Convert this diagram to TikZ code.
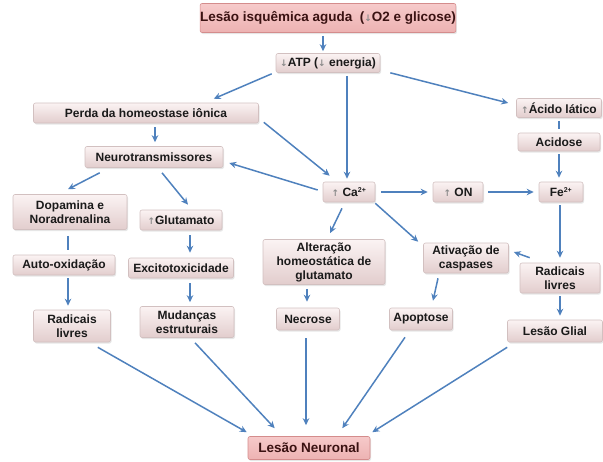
\documentclass[tikz,border=0pt]{standalone}
\usepackage{fontspec}
\setmainfont{Liberation Sans}
\newfontfamily\symfont{DejaVu Sans}
\usetikzlibrary{arrows.meta,calc,shadows}
\definecolor{arrblue}{HTML}{4F81BD}
\definecolor{boxtop}{HTML}{FBF3F3}
\definecolor{boxbot}{HTML}{E2CDCD}
\definecolor{boxline}{HTML}{D2C0C0}
\definecolor{redtop}{HTML}{F6CACA}
\definecolor{redbot}{HTML}{EDB2B2}
\definecolor{redline}{HTML}{D48C8C}
\definecolor{txt}{HTML}{1A1A1A}
\definecolor{redtxt}{HTML}{3A1212}
\definecolor{symgray}{HTML}{8A8A8A}
\newcommand\myup{{\symfont\fontsize{9}{9}\selectfont\color{symgray}↑}}
\newcommand\mydn{{\symfont\fontsize{9}{9}\selectfont\color{symgray}↓}}
\newcommand\supp[1]{\textsuperscript{\fontsize{7}{7}\selectfont #1}}
\begin{document}
\begin{tikzpicture}[x=1pt,y=-1pt,
  box/.style={draw=boxline, line width=0.6pt, rounded corners=2pt,
    top color=boxtop, bottom color=boxbot,
    font=\fontsize{12}{14}\selectfont\bfseries, text=txt, align=center, inner sep=0pt,
    drop shadow={shadow xshift=1pt,shadow yshift=-1.5pt,opacity=0.2}},
  redbox/.style={box, draw=redline, top color=redtop, bottom color=redbot,
    font=\fontsize{13.5}{15}\selectfont\bfseries, text=redtxt},
  arr/.style={draw=arrblue, line width=1.5pt, -{Stealth[length=7pt,width=6.5pt]}},
  plainline/.style={draw=arrblue, line width=1.5pt}]
\useasboundingbox (0,0) rectangle (603,461);

% nodes
\node[redbox, minimum width=250pt, minimum height=29pt] (lis) at (328,18) {Lesão isquêmica aguda\ \ (\mydn O2 e glicose)};
\node[box, minimum width=104pt, minimum height=19pt] (atp) at (328,63) {\mydn ATP (\mydn\ energia)};
\node[box, minimum width=225pt, minimum height=20pt] (perda) at (146,113) {Perda da homeostase iônica};
\node[box, minimum width=85pt, minimum height=19pt] (acid) at (559,108) {\myup Ácido lático};
\node[box, minimum width=82pt, minimum height=18pt] (acidose) at (559,142) {Acidose};
\node[box, minimum width=138pt, minimum height=21pt] (neuro) at (154,157) {Neurotransmissores};
\node[box, minimum width=52pt, minimum height=20pt] (ca) at (349,192) {\myup\ Ca\supp{2+}};
\node[box, minimum width=50pt, minimum height=20pt] (on) at (458,192) {\myup\ ON};
\node[box, minimum width=44pt, minimum height=20pt] (fe) at (561,192) {Fe\supp{2+}};
\node[box, minimum width=114pt, minimum height=35pt] (dopa) at (70,212) {Dopamina e\\Noradrenalina};
\node[box, minimum width=82pt, minimum height=20pt] (glut) at (181,220) {\myup Glutamato};
\node[box, minimum width=102pt, minimum height=20pt] (auto) at (64,265) {Auto-oxidação};
\node[box, minimum width=105pt, minimum height=20pt] (exc) at (181,268) {Excitotoxicidade};
\node[box, minimum width=122pt, minimum height=45pt] (alt) at (324,262) {Alteração\\homeostática de\\glutamato};
\node[box, minimum width=85pt, minimum height=30pt] (ativ) at (466,258) {Ativação de\\caspases};
\node[box, minimum width=80pt, minimum height=30pt] (radr) at (560,278) {Radicais\\livres};
\node[box, minimum width=77pt, minimum height=32pt] (radl) at (72,326) {Radicais\\livres};
\node[box, minimum width=94pt, minimum height=31pt] (mud) at (187,322) {Mudanças\\estruturais};
\node[box, minimum width=63pt, minimum height=22pt] (nec) at (308,319) {Necrose};
\node[box, minimum width=63pt, minimum height=22pt] (apop) at (421,319) {Apoptose};
\node[box, minimum width=95pt, minimum height=22pt] (glial) at (555,331) {Lesão Glial};
\node[redbox, minimum width=122pt, minimum height=23pt] (ln) at (309,448) {Lesão Neuronal};

% connectors
\draw[arr] ($(lis.south)+(-5,3)$) -- ($(atp.north)+(-5,-2)$);
\draw[arr] ($(atp.south west)+(-4,1)$) -- ($(perda.north east)+(-45,-4)$);
\draw[arr] ($(atp.south)+(19,3)$) -- ($(ca.north)+(-2,-3)$);
\draw[arr] ($(atp.south east)+(10,0)$) -- ($(acid.west)+(-8,-5)$);
\draw[arr] ($(perda.south)+(9,4)$) -- ($(neuro.north)+(1,-4)$);
\draw[arr] ($(perda.south east)+(5,-1)$) -- ($(ca.north west)+(7,-6)$);
\draw[arr] ($(ca.west)+(-5,-2)$) -- ($(neuro.east)+(6,6)$);
\draw[plainline] ($(acid.south)+(0,3)$) -- ($(acidose.north)+(0,-4)$);
\draw[arr] ($(acidose.south)+(0,3)$) -- ($(fe.north)+(-2,-4)$);
\draw[arr] ($(ca.east)+(6,0)$) -- ($(on.west)+(-5,0)$);
\draw[arr] ($(on.east)+(5,0)$) -- ($(fe.west)+(-5,0)$);
\draw[arr] ($(fe.south)+(-1,3)$) -- ($(radr.north)+(0,-5)$);
\draw[arr] ($(radr.north west)+(10,-5)$) -- ($(ativ.east)+(5,-6)$);
\draw[arr] ($(radr.south)+(0,3)$) -- ($(glial.north)+(5,-4)$);
\draw[arr] ($(neuro.south west)+(15,5)$) -- ($(dopa.north)+(-2,-5)$);
\draw[arr] ($(neuro.south)+(8,5)$) -- ($(glut.north)+(7,-5)$);
\draw[plainline] ($(dopa.south)+(-2,6)$) -- ($(auto.north)+(4,-5)$);
\draw[arr] ($(auto.south)+(4,3)$) -- ($(radl.north)+(-4,-4)$);
\draw[arr] ($(glut.south)+(9,5)$) -- ($(exc.north)+(9,-5)$);
\draw[arr] ($(exc.south)+(9,5)$) -- ($(mud.north)+(3,-4)$);
\draw[arr] ($(ca.south)+(-7,6)$) -- ($(alt.north)+(6,-6)$);
\draw[arr] ($(ca.south east)+(0,1)$) -- ($(ativ.north west)+(-5,-1)$);
\draw[arr] ($(alt.south)+(-17,4)$) -- ($(nec.north)+(-1,-6)$);
\draw[arr] ($(ativ.south)+(-28,5)$) -- ($(apop.north)+(12,-7)$);
\draw[arr] ($(radl.south east)+(-13,5)$) -- ($(ln.north west)+(-1,-4)$);
\draw[arr] ($(mud.south)+(8,5)$) -- ($(ln.north west)+(27,-8)$);
\draw[arr] ($(nec.south)+(-2,8)$) -- ($(ln.north)+(-3,-11)$);
\draw[arr] ($(apop.south)+(-16,7)$) -- ($(ln.north east)+(-28,-8)$);
\draw[arr] ($(glial.south west)+(0,5)$) -- ($(ln.north east)+(2,-4)$);
\end{tikzpicture}
\end{document}
